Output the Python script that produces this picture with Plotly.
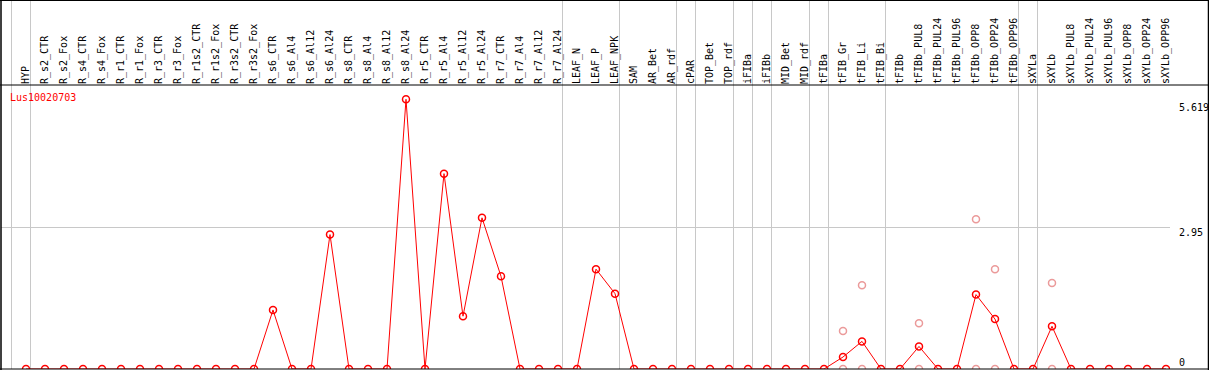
import plotly.graph_objects as go

categories = [
    "HYP", "R_s2_CTR", "R_s2_Fox", "R_s4_CTR", "R_s4_Fox", "R_r1_CTR", "R_r1_Fox",
    "R_r3_CTR", "R_r3_Fox", "R_r1s2_CTR", "R_r1s2_Fox", "R_r3s2_CTR", "R_r3s2_Fox",
    "R_s6_CTR", "R_s6_Al4", "R_s6_Al12", "R_s6_Al24", "R_s8_CTR", "R_s8_Al4",
    "R_s8_Al12", "R_s8_Al24", "R_r5_CTR", "R_r5_Al4", "R_r5_Al12", "R_r5_Al24",
    "R_r7_CTR", "R_r7_Al4", "R_r7_Al12", "R_r7_Al24", "LEAF_N", "LEAF_P", "LEAF_NPK",
    "SAM", "AR_Bet", "AR_rdf", "cPAR", "TOP_Bet", "TOP_rdf", "iFIBa", "iFIBb",
    "MID_Bet", "MID_rdf", "tFIBa", "tFIB_Gr", "tFIB_Li", "tFIB_Bi", "tFIBb",
    "tFIBb_PUL8", "tFIBb_PUL24", "tFIBb_PUL96", "tFIBb_OPP8", "tFIBb_OPP24", "tFIBb_OPP96",
    "sXYLa", "sXYLb", "sXYLb_PUL8", "sXYLb_PUL24", "sXYLb_PUL96", "sXYLb_OPP8",
    "sXYLb_OPP24", "sXYLb_OPP96",
]

mean_expr = [
    0, 0, 0, 0, 0, 0, 0, 0, 0, 0, 0, 0, 0,
    1.23, 0, 0, 2.80, 0, 0, 0, 5.619, 0, 4.07, 1.10, 3.15, 1.93, 0, 0, 0,
    0, 2.08, 1.57,
    0, 0, 0, 0, 0, 0, 0, 0, 0, 0, 0,
    0.25, 0.575, 0, 0, 0.47, 0, 0, 1.55, 1.04, 0, 0, 0.89,
    0, 0, 0, 0, 0, 0,
]

rep_categories = ["tFIB_Gr", "tFIB_Li", "tFIBb_PUL8", "tFIBb_OPP8", "tFIBb_OPP24", "sXYLb"]
rep_high = [0.79, 1.745, 0.955, 3.12, 2.08, 1.79]
rep_low = [0, 0, 0, 0, 0, 0]

# group separators: after these category indices (-1 = left edge)
group_breaks_after = [-1, 0, 28, 31, 34, 35, 37, 38, 39, 41, 42, 45, 52, 53, 60]

y_labels = ["5.619", "2.95", "0"]
y_label_pos = [107, 232, 362]  # pixel rows of label centres

title = "Lus10020703"

W, H = 1209, 370
ML, MR, MT, MB = 1, 39, 85, 1
PW = W - ML - MR
PH = H - MT - MB
xmin, xmax = -25 / 19, 1144 / 19
ppu = 48.0
ymax = PH / ppu

RED = "#ff0000"
PINK = "#eb9a9a"
GRID = "#c8c8c8"
FONT = "DejaVu Sans Mono"

x_idx = list(range(len(categories)))
rep_x = [categories.index(c) for c in rep_categories]


def px_x(px):
    return (px - ML) / PW


def px_y(py):
    return (H - MB - py) / PH


fig = go.Figure()
fig.add_trace(go.Scatter(
    x=rep_x + rep_x, y=rep_high + rep_low, mode="markers",
    marker=dict(symbol="circle-open", size=7, color=PINK, line=dict(width=1.5, color=PINK)),
    hoverinfo="skip", showlegend=False,
))
fig.add_trace(go.Scatter(
    x=x_idx, y=mean_expr, mode="lines+markers",
    line=dict(color=RED, width=1),
    marker=dict(symbol="circle-open", size=7, color=RED, line=dict(width=1.5, color=RED)),
    showlegend=False,
))

shapes = []
top_paper = px_y(0)
for b in group_breaks_after:
    xv = b + 0.5 - 5 / 19
    shapes.append(dict(type="line", xref="x", yref="paper", x0=xv, x1=xv, y0=0, y1=top_paper,
                       line=dict(color=GRID, width=1), layer="below"))
# frame lines
for py in (0.5, 85, 369):
    shapes.append(dict(type="line", xref="paper", yref="paper", x0=px_x(0), x1=px_x(W),
                       y0=px_y(py), y1=px_y(py), line=dict(color="black", width=1)))
for pxv in (1, 1208.5):
    shapes.append(dict(type="line", xref="paper", yref="paper", x0=px_x(pxv), x1=px_x(pxv),
                       y0=px_y(370), y1=px_y(0), line=dict(color="black", width=1.5)))

annotations = [dict(text=title, xref="paper", yref="paper", x=px_x(8), y=px_y(97.5),
                    xanchor="left", yanchor="middle", showarrow=False,
                    font=dict(family=FONT, size=10, color=RED))]
for lab, py in zip(y_labels, y_label_pos):
    annotations.append(dict(text=lab, xref="paper", yref="paper", x=px_x(1177), y=px_y(py),
                            xanchor="left", yanchor="middle", showarrow=False,
                            font=dict(family=FONT, size=10, color="black")))

fig.update_layout(
    width=W, height=H,
    margin=dict(l=ML, r=MR, t=MT, b=MB, pad=0),
    paper_bgcolor="white", plot_bgcolor="white",
    xaxis=dict(range=[xmin, xmax], side="top", tickvals=x_idx, ticktext=categories,
               tickangle=-90, ticks="", showgrid=False, zeroline=False, showline=False,
               automargin=False, tickfont=dict(family=FONT, size=10, color="black")),
    yaxis=dict(range=[0, ymax], tickvals=[2.95], showticklabels=False, showgrid=True,
               gridcolor=GRID, gridwidth=1, zeroline=False, showline=False, automargin=False),
    shapes=shapes, annotations=annotations,
)

fig.write_html("out.html", config={"displayModeBar": False},
               post_script="document.body.style.margin='0';document.body.style.overflow='hidden';")
